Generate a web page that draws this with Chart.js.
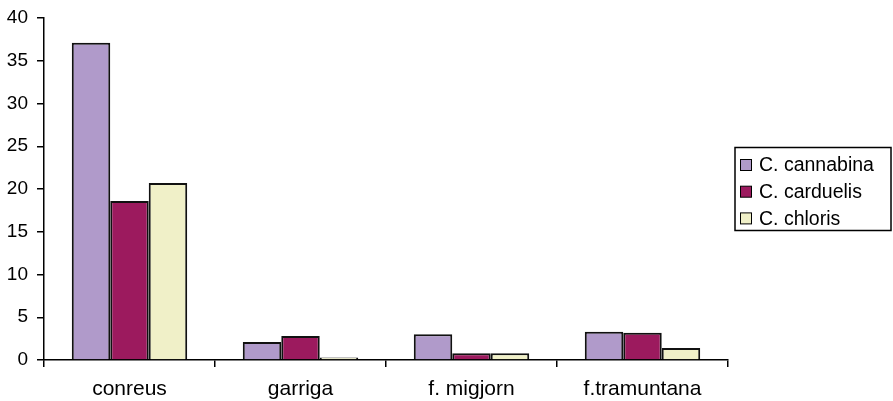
<!DOCTYPE html>
<html><head><meta charset="utf-8">
<script src="https://cdn.jsdelivr.net/npm/chart.js@4"></script>
<style>html,body{margin:0;padding:0;background:#fff}canvas{display:block}</style>
</head><body>
<canvas id="c" width="893" height="401"></canvas>
<script>
const categories = ["conreus", "garriga", "f. migjorn", "f.tramuntana"];
const seriesNames = ["C. cannabina", "C. carduelis", "C. chloris"];
const cannabina = [37.1, 2.1, 3.0, 3.3];
const carduelis = [18.6, 2.8, 0.8, 3.2];
const chloris = [20.7, 0.3, 0.8, 1.4];
const yTicks = [0, 5, 10, 15, 20, 25, 30, 35, 40];
const colors = ["#B09ACA", "#9C1A5E", "#F0F0C8"];

const FONT = "Liberation Sans, Arial, sans-serif";

const legendPlugin = {
  id: 'boxLegend',
  afterDraw(chart) {
    const ctx = chart.ctx;
    ctx.save();
    ctx.strokeStyle = '#000'; ctx.lineWidth = 1.5;
    ctx.strokeRect(735, 147.5, 156, 83);
    ctx.font = '19.5px ' + FONT;
    ctx.textBaseline = 'middle';
    chart.data.datasets.forEach((ds, i) => {
      const cy = 165 + i * 26.7;
      ctx.fillStyle = ds.backgroundColor;
      ctx.fillRect(740.5, cy - 5.5, 11, 11);
      ctx.strokeStyle = '#000'; ctx.lineWidth = 1;
      ctx.strokeRect(740.5, cy - 5.5, 11, 11);
      ctx.fillStyle = '#000';
      ctx.fillText(ds.label, 759, cy + 1);
    });
    ctx.restore();
  }
};

new Chart(document.getElementById('c'), {
  type: 'bar',
  data: {
    labels: categories,
    datasets: [
      { label: seriesNames[0], data: cannabina, backgroundColor: colors[0] },
      { label: seriesNames[1], data: carduelis, backgroundColor: colors[1] },
      { label: seriesNames[2], data: chloris, backgroundColor: colors[2] }
    ].map(d => Object.assign(d, { borderColor: '#111', borderWidth: 2, categoryPercentage: 0.675, barPercentage: 1.0 }))
  },
  options: {
    responsive: false,
    animation: false,
    devicePixelRatio: 1,
    layout: { padding: { top: 18, right: 165, left: 0, bottom: 0 } },
    plugins: { legend: { display: false }, tooltip: { enabled: false } },
    scales: {
      x: {
        offset: true,
        grid: { display: true, offset: true, drawOnChartArea: false, drawTicks: true, tickLength: 7, color: '#000', lineWidth: 1.5 },
        border: { display: true, color: '#000', width: 1.5 },
        ticks: { color: '#000', font: { family: FONT, size: 21 }, padding: 10, maxRotation: 0, autoSkip: false },
        afterFit(s) { s.height = 41; s.paddingLeft = 0; s.paddingRight = 0; }
      },
      y: {
        min: 0, max: 40,
        afterBuildTicks(s) { s.ticks = yTicks.map(v => ({ value: v })); },
        grid: { display: true, drawOnChartArea: false, drawTicks: true, tickLength: 7, color: '#000', lineWidth: 1.5 },
        border: { display: true, color: '#000', width: 1.5 },
        ticks: { color: '#000', font: { family: FONT, size: 19 }, padding: 9 },
        afterFit(s) { s.width = 44; s.paddingTop = 0; s.paddingBottom = 0; }
      }
    }
  },
  plugins: [legendPlugin]
});
</script>
</body></html>
